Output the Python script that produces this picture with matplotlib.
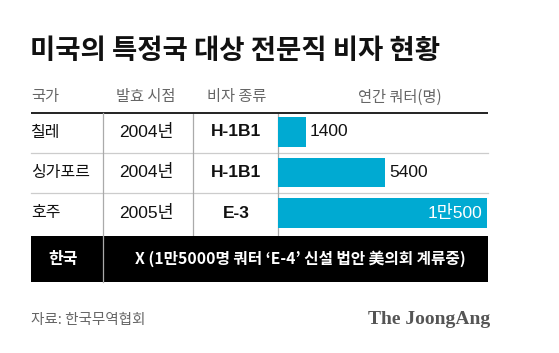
import matplotlib
matplotlib.use("Agg")
import matplotlib.pyplot as plt
from matplotlib.patches import Rectangle

plt.rcParams['font.family'] = ['Noto Sans CJK KR', 'DejaVu Sans']

title = "미국의 특정국 대상 전문직 비자 현황"
headers = ["국가", "발효 시점", "비자 종류", "연간 쿼터(명)"]
countries = ["칠레", "싱가포르", "호주"]
years = ["2004년", "2004년", "2005년"]
visa_types = ["H-1B1", "H-1B1", "E-3"]
quotas = [1400, 5400, 10500]
quota_labels = ["1400", "5400", "1만500"]
korea_name = "한국"
korea_note = "X (1만5000명 쿼터 ‘E-4’ 신설 법안 美의회 계류중)"
source = "자료: 한국무역협회"
brand = "The JoongAng"

W, H = 559, 353
fig = plt.figure(figsize=(W / 100, H / 100), dpi=100)
fig.patch.set_facecolor("white")

# Canvas axes in pixel coordinates
ax = fig.add_axes([0, 0, 1, 1])
ax.set_xlim(0, W)
ax.set_ylim(H, 0)
ax.axis("off")

mixed = ['Liberation Sans', 'Noto Sans CJK KR']
L, R = 31, 488
col_x = [103, 193, 278]
head_line = 113
row_top = [113, 153, 193]
row_c = [132, 172.5, 213]
band_top, band_bot = 236, 282
bar_color = "#00AAD2"

# Title
ax.text(L - 1, 51, title, fontsize=19.8, fontweight='black', color="#111111",
        va='center', ha='left')

# Headers
hdr_x = [L, 146, 237, 400]
hdr_ha = ['left', 'center', 'center', 'center']
for t, x, ha in zip(headers, hdr_x, hdr_ha):
    ax.text(x, 97, t, fontsize=11, color="#666666", va='center', ha=ha)

# Lines
ax.plot([L, R], [head_line, head_line], color="#222222", lw=1.4,
        solid_capstyle='butt', zorder=3)
for y in row_top[1:]:
    ax.plot([L, R], [y, y], color="#cccccc", lw=0.9, zorder=1)
ax.plot([col_x[0], col_x[0]], [head_line, band_bot], color="#aaaaaa", lw=0.9, zorder=4)
for x in col_x[1:]:
    ax.plot([x, x], [head_line, band_top], color="#aaaaaa", lw=0.9, zorder=1)

# Rows
for i in range(3):
    y = row_c[i]
    ax.text(L, y, countries[i], fontsize=11.5, color="#111111", va='center', ha='left')
    ax.text(146, y, years[i], fontsize=12.5, color="#111111", va='center',
            ha='center', family=mixed)
    ax.text(236, y, visa_types[i], fontsize=12.5, fontweight='bold',
            color="#111111", va='center', ha='center', family=mixed)

# Korea band
ax.add_patch(Rectangle((L, band_top), R - L, band_bot - band_top,
                       facecolor="black", edgecolor="none", zorder=2))
ax.text(63, 259, korea_name, fontsize=11.5, fontweight='bold', color="white",
        va='center', ha='center', zorder=5)
ax.text(300, 259, korea_note, fontsize=11.3, fontweight='bold', color="white",
        va='center', ha='center', zorder=5)

# Footer
ax.text(L, 320, source, fontsize=10.5, color="#666666", va='center', ha='left')
ax.text(490, 319, brand, fontsize=14, fontweight='bold', color="#555555",
        va='center', ha='right', family='Liberation Serif')

# Bar axes
bx0, bx1 = 278, 487
by0, by1 = 132 - 20.25, 213 + 20.25
bax = fig.add_axes([bx0 / W, 1 - by1 / H, (bx1 - bx0) / W, (by1 - by0) / H])
bax.set_xlim(0, 10500)
bax.set_ylim(2.5, -0.5)
bax.axis("off")
bax.patch.set_alpha(0)
pos = list(range(len(quotas)))
bax.barh(pos, quotas, height=0.72, color=bar_color, edgecolor='none')
for i, (v, lab) in enumerate(zip(quotas, quota_labels)):
    if v > 9000:
        bax.text(v - 250, i, lab, fontsize=12.5, color="white", va='center',
                 ha='right', family=mixed)
    else:
        bax.text(v + 200, i, lab, fontsize=12.5, color="#111111", va='center',
                 ha='left', family=mixed)

fig.savefig("out.png", dpi=100, facecolor="white")
